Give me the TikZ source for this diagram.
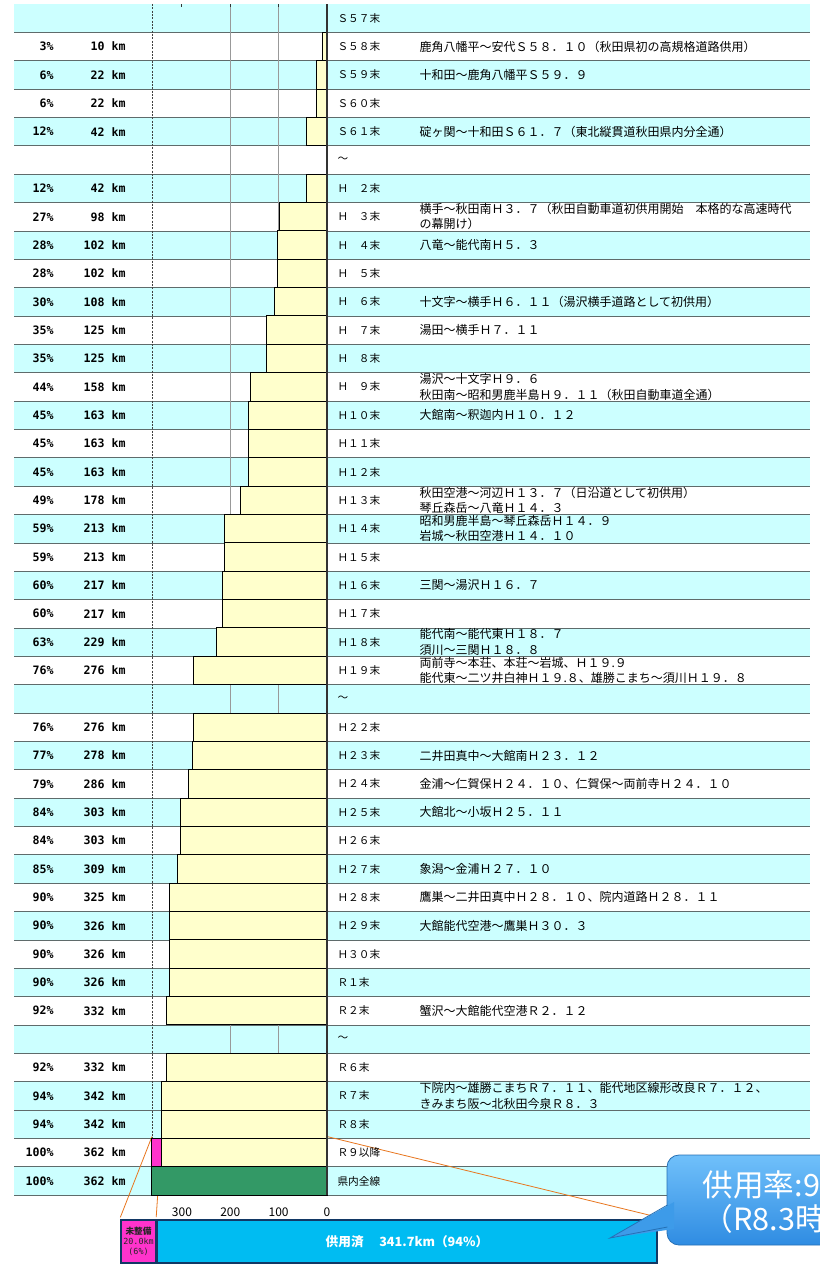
\documentclass[tikz,border=0pt]{standalone}
\usepackage{fontspec}
\setmainfont{Noto Sans CJK JP}
\newfontfamily\numfont{DejaVu Sans Mono}

\definecolor{rowcyan}{HTML}{CCFFFF}
\definecolor{rowgray}{HTML}{5F6B6B}
\definecolor{baryellow}{HTML}{FFFFCC}
\definecolor{gapmagenta}{HTML}{FF33CC}
\definecolor{allgreen}{HTML}{339966}
\definecolor{leadorange}{HTML}{E8761E}
\definecolor{doneblue}{HTML}{00BCF2}
\definecolor{donenavy}{HTML}{123865}
\definecolor{calltop}{HTML}{70C0FA}
\definecolor{callbottom}{HTML}{2F8CE2}
\definecolor{callmid}{HTML}{3D9BE9}

\tikzset{every picture/.style={line width=0.75pt}}
\tikzset{
  rowband/.style={fill=rowcyan},
  rowline/.style={draw=rowgray, line width=0.5pt},
  gridline/.style={draw=gray!80, line width=0.5pt},
  edgeline/.style={draw=gray!50!black, line width=0.5pt, dash pattern=on 1.5pt off 1pt},
  zeroline/.style={draw=black!80, line width=1pt},
  kmbar/.style={fill=baryellow, draw=black, line width=0.75pt},
  gapbar/.style={fill=gapmagenta, draw=black, line width=0.75pt},
  allbar/.style={fill=allgreen, draw=black, line width=0.75pt},
  leadline/.style={draw=leadorange, line width=0.6pt},
  numtext/.style={anchor=east, inner sep=0.75pt, font=\numfont\bfseries\fontsize{8.7}{10}\selectfont},
  yeartext/.style={anchor=west, inner sep=0.75pt, font=\fontsize{8}{9}\selectfont},
  desctext/.style={anchor=west, inner sep=0.75pt, align=left, font=\fontsize{9}{11.5}\selectfont},
  axistext/.style={inner sep=0.75pt, font=\fontsize{9}{10}\selectfont},
  gapbox/.style={draw=donenavy, fill=gapmagenta, line width=1pt, minimum width=26.25pt, minimum height=32.25pt, inner sep=0pt, align=center, text=black!85, font=\fontsize{6.3}{7.5}\selectfont},
  donebox/.style={draw=donenavy, fill=doneblue, line width=1.2pt, minimum width=375pt, minimum height=32.25pt, inner sep=0pt, text=white, font=\bfseries\fontsize{9.5}{10}\selectfont},
  callbody/.style={top color=calltop, bottom color=callbottom, draw=callbottom!80!black, line width=0.6pt, rounded corners=9pt},
  calltext/.style={anchor=west, inner sep=0pt, text=white, font=\fontsize{23}{24}\selectfont},
}

\begin{document}
\begin{tikzpicture}[x=0.75pt,y=0.75pt,yscale=-1,xscale=1]
\useasboundingbox (0,0) rectangle (820,1264);
\clip (0,0) rectangle (820,1264);
\fill[white] (0,0) rectangle (820,1264);

% Boxes under the axis
\node[gapbox] (undone) at (138.5,1241.5) {{\bfseries\fontsize{6.5}{7.5}\selectfont 未整備}\\{\numfont 20.0km}\\{\numfont (6\%)}};
\node[donebox] (done) at (407,1241.5) {供用済\quad\ 341.7km（94\%）};

% Table: one unit of y is one row
\begin{scope}[shift={(0,4)},yscale=28.36]
  %Row bands
  \fill[rowband] (14,0) rectangle (810,1);
  \fill[rowband] (14,2) rectangle (810,3);
  \fill[rowband] (14,4) rectangle (810,5);
  \fill[rowband] (14,6) rectangle (810,7);
  \fill[rowband] (14,8) rectangle (810,9);
  \fill[rowband] (14,10) rectangle (810,11);
  \fill[rowband] (14,12) rectangle (810,13);
  \fill[rowband] (14,14) rectangle (810,15);
  \fill[rowband] (14,16) rectangle (810,17);
  \fill[rowband] (14,18) rectangle (810,19);
  \fill[rowband] (14,20) rectangle (810,21);
  \fill[rowband] (14,22) rectangle (810,23);
  \fill[rowband] (14,24) rectangle (810,25);
  \fill[rowband] (14,26) rectangle (810,27);
  \fill[rowband] (14,28) rectangle (810,29);
  \fill[rowband] (14,30) rectangle (810,31);
  \fill[rowband] (14,32) rectangle (810,33);
  \fill[rowband] (14,34) rectangle (810,35);
  \fill[rowband] (14,36) rectangle (810,37);
  \fill[rowband] (14,38) rectangle (810,40);
  \fill[rowband] (14,41) rectangle (810,42);
  %Row lines
  \draw[rowline] (14,1) -- (810,1) (14,2) -- (810,2) (14,3) -- (810,3) (14,4) -- (810,4) (14,5) -- (810,5) (14,6) -- (810,6)
    (14,7) -- (810,7) (14,8) -- (810,8) (14,9) -- (810,9) (14,10) -- (810,10) (14,11) -- (810,11) (14,12) -- (810,12)
    (14,13) -- (810,13) (14,14) -- (810,14) (14,15) -- (810,15) (14,16) -- (810,16) (14,17) -- (810,17) (14,18) -- (810,18)
    (14,19) -- (810,19) (14,20) -- (810,20) (14,21) -- (810,21) (14,22) -- (810,22) (14,23) -- (810,23) (14,24) -- (810,24)
    (14,25) -- (810,25) (14,26) -- (810,26) (14,27) -- (810,27) (14,28) -- (810,28) (14,29) -- (810,29) (14,30) -- (810,30)
    (14,31) -- (810,31) (14,32) -- (810,32) (14,33) -- (810,33) (14,34) -- (810,34) (14,35) -- (810,35) (14,36) -- (810,36)
    (14,37) -- (810,37) (14,38) -- (810,38) (14,39) -- (810,39) (14,40) -- (810,40) (14,41) -- (810,41) (14,42) -- (810,42);

  % Bars: x in km, leftwards from the zero line
  \begin{scope}[shift={(327,0)},xscale=-0.4835]
    \draw[gridline] (200,0) -- (200,42) (100,0) -- (100,42);
    \draw[edgeline] (362,0) -- (362,42);
    \draw[black!80] (300,0) -- (300,0.1) (200,0) -- (200,0.1) (100,0) -- (100,0.1);
    \coordinate (gapl) at (362,40);
    \coordinate (gapr) at (342,40);
    \coordinate (zerotop) at (0,40);
    \draw[leadline] (gapl) -- (undone.north west);
    \draw[leadline] (gapr) -- (done.north west);
    \draw[leadline] (zerotop) -- (done.north east);
    \draw[kmbar] (0,1) rectangle (10,2);
    \draw[kmbar] (0,2) rectangle (22,3);
    \draw[kmbar] (0,3) rectangle (22,4);
    \draw[kmbar] (0,4) rectangle (42,5);
    \draw[kmbar] (0,6) rectangle (42,7);
    \draw[kmbar] (0,7) rectangle (98,8);
    \draw[kmbar] (0,8) rectangle (102,9);
    \draw[kmbar] (0,9) rectangle (102,10);
    \draw[kmbar] (0,10) rectangle (108,11);
    \draw[kmbar] (0,11) rectangle (125,12);
    \draw[kmbar] (0,12) rectangle (125,13);
    \draw[kmbar] (0,13) rectangle (158,14);
    \draw[kmbar] (0,14) rectangle (163,15);
    \draw[kmbar] (0,15) rectangle (163,16);
    \draw[kmbar] (0,16) rectangle (163,17);
    \draw[kmbar] (0,17) rectangle (178,18);
    \draw[kmbar] (0,18) rectangle (213,19);
    \draw[kmbar] (0,19) rectangle (213,20);
    \draw[kmbar] (0,20) rectangle (217,21);
    \draw[kmbar] (0,21) rectangle (217,22);
    \draw[kmbar] (0,22) rectangle (229,23);
    \draw[kmbar] (0,23) rectangle (276,24);
    \draw[kmbar] (0,25) rectangle (276,26);
    \draw[kmbar] (0,26) rectangle (278,27);
    \draw[kmbar] (0,27) rectangle (286,28);
    \draw[kmbar] (0,28) rectangle (303,29);
    \draw[kmbar] (0,29) rectangle (303,30);
    \draw[kmbar] (0,30) rectangle (309,31);
    \draw[kmbar] (0,31) rectangle (325,32);
    \draw[kmbar] (0,32) rectangle (326,33);
    \draw[kmbar] (0,33) rectangle (326,34);
    \draw[kmbar] (0,34) rectangle (326,35);
    \draw[kmbar] (0,35) rectangle (332,36);
    \draw[kmbar] (0,37) rectangle (332,38);
    \draw[kmbar] (0,38) rectangle (342,39);
    \draw[kmbar] (0,39) rectangle (342,40);
    \draw[kmbar] (0,40) rectangle (342,41);
    \draw[gapbar] (342,40) rectangle (362,41);
    \draw[allbar] (0,41) rectangle (362,42);
    \draw[zeroline] (0,0) -- (0,42);
    % Text Node
    \node[axistext] (ax300) at (300,42.6) {300};
    \node[axistext] (ax200) at (200,42.6) {200};
    \node[axistext] (ax100) at (100,42.6) {100};
    \node[axistext] (ax0) at (0,42.6) {0};
  \end{scope}

  % Text Node: share and length
  \node[numtext] (pct1) at (55,1.5) {3\%};    \node[numtext] (km1) at (127,1.5) {10 km};
  \node[numtext] (pct2) at (55,2.5) {6\%};    \node[numtext] (km2) at (127,2.5) {22 km};
  \node[numtext] (pct3) at (55,3.5) {6\%};    \node[numtext] (km3) at (127,3.5) {22 km};
  \node[numtext] (pct4) at (55,4.5) {12\%};   \node[numtext] (km4) at (127,4.5) {42 km};
  \node[numtext] (pct6) at (55,6.5) {12\%};   \node[numtext] (km6) at (127,6.5) {42 km};
  \node[numtext] (pct7) at (55,7.5) {27\%};   \node[numtext] (km7) at (127,7.5) {98 km};
  \node[numtext] (pct8) at (55,8.5) {28\%};   \node[numtext] (km8) at (127,8.5) {102 km};
  \node[numtext] (pct9) at (55,9.5) {28\%};   \node[numtext] (km9) at (127,9.5) {102 km};
  \node[numtext] (pct10) at (55,10.5) {30\%}; \node[numtext] (km10) at (127,10.5) {108 km};
  \node[numtext] (pct11) at (55,11.5) {35\%}; \node[numtext] (km11) at (127,11.5) {125 km};
  \node[numtext] (pct12) at (55,12.5) {35\%}; \node[numtext] (km12) at (127,12.5) {125 km};
  \node[numtext] (pct13) at (55,13.5) {44\%}; \node[numtext] (km13) at (127,13.5) {158 km};
  \node[numtext] (pct14) at (55,14.5) {45\%}; \node[numtext] (km14) at (127,14.5) {163 km};
  \node[numtext] (pct15) at (55,15.5) {45\%}; \node[numtext] (km15) at (127,15.5) {163 km};
  \node[numtext] (pct16) at (55,16.5) {45\%}; \node[numtext] (km16) at (127,16.5) {163 km};
  \node[numtext] (pct17) at (55,17.5) {49\%}; \node[numtext] (km17) at (127,17.5) {178 km};
  \node[numtext] (pct18) at (55,18.5) {59\%}; \node[numtext] (km18) at (127,18.5) {213 km};
  \node[numtext] (pct19) at (55,19.5) {59\%}; \node[numtext] (km19) at (127,19.5) {213 km};
  \node[numtext] (pct20) at (55,20.5) {60\%}; \node[numtext] (km20) at (127,20.5) {217 km};
  \node[numtext] (pct21) at (55,21.5) {60\%}; \node[numtext] (km21) at (127,21.5) {217 km};
  \node[numtext] (pct22) at (55,22.5) {63\%}; \node[numtext] (km22) at (127,22.5) {229 km};
  \node[numtext] (pct23) at (55,23.5) {76\%}; \node[numtext] (km23) at (127,23.5) {276 km};
  \node[numtext] (pct25) at (55,25.5) {76\%}; \node[numtext] (km25) at (127,25.5) {276 km};
  \node[numtext] (pct26) at (55,26.5) {77\%}; \node[numtext] (km26) at (127,26.5) {278 km};
  \node[numtext] (pct27) at (55,27.5) {79\%}; \node[numtext] (km27) at (127,27.5) {286 km};
  \node[numtext] (pct28) at (55,28.5) {84\%}; \node[numtext] (km28) at (127,28.5) {303 km};
  \node[numtext] (pct29) at (55,29.5) {84\%}; \node[numtext] (km29) at (127,29.5) {303 km};
  \node[numtext] (pct30) at (55,30.5) {85\%}; \node[numtext] (km30) at (127,30.5) {309 km};
  \node[numtext] (pct31) at (55,31.5) {90\%}; \node[numtext] (km31) at (127,31.5) {325 km};
  \node[numtext] (pct32) at (55,32.5) {90\%}; \node[numtext] (km32) at (127,32.5) {326 km};
  \node[numtext] (pct33) at (55,33.5) {90\%}; \node[numtext] (km33) at (127,33.5) {326 km};
  \node[numtext] (pct34) at (55,34.5) {90\%}; \node[numtext] (km34) at (127,34.5) {326 km};
  \node[numtext] (pct35) at (55,35.5) {92\%}; \node[numtext] (km35) at (127,35.5) {332 km};
  \node[numtext] (pct37) at (55,37.5) {92\%}; \node[numtext] (km37) at (127,37.5) {332 km};
  \node[numtext] (pct38) at (55,38.5) {94\%}; \node[numtext] (km38) at (127,38.5) {342 km};
  \node[numtext] (pct39) at (55,39.5) {94\%}; \node[numtext] (km39) at (127,39.5) {342 km};
  \node[numtext] (pct40) at (55,40.5) {100\%}; \node[numtext] (km40) at (127,40.5) {362 km};
  \node[numtext] (pct41) at (55,41.5) {100\%}; \node[numtext] (km41) at (127,41.5) {362 km};

  % Text Node: year
  \node[yeartext] (yr0) at (336,0.5) {Ｓ５７末};
  \node[yeartext] (yr1) at (336,1.5) {Ｓ５８末};
  \node[yeartext] (yr2) at (336,2.5) {Ｓ５９末};
  \node[yeartext] (yr3) at (336,3.5) {Ｓ６０末};
  \node[yeartext] (yr4) at (336,4.5) {Ｓ６１末};
  \node[yeartext] (yr5) at (336,5.5) {～};
  \node[yeartext] (yr6) at (336,6.5) {Ｈ　２末};
  \node[yeartext] (yr7) at (336,7.5) {Ｈ　３末};
  \node[yeartext] (yr8) at (336,8.5) {Ｈ　４末};
  \node[yeartext] (yr9) at (336,9.5) {Ｈ　５末};
  \node[yeartext] (yr10) at (336,10.5) {Ｈ　６末};
  \node[yeartext] (yr11) at (336,11.5) {Ｈ　７末};
  \node[yeartext] (yr12) at (336,12.5) {Ｈ　８末};
  \node[yeartext] (yr13) at (336,13.5) {Ｈ　９末};
  \node[yeartext] (yr14) at (336,14.5) {Ｈ１０末};
  \node[yeartext] (yr15) at (336,15.5) {Ｈ１１末};
  \node[yeartext] (yr16) at (336,16.5) {Ｈ１２末};
  \node[yeartext] (yr17) at (336,17.5) {Ｈ１３末};
  \node[yeartext] (yr18) at (336,18.5) {Ｈ１４末};
  \node[yeartext] (yr19) at (336,19.5) {Ｈ１５末};
  \node[yeartext] (yr20) at (336,20.5) {Ｈ１６末};
  \node[yeartext] (yr21) at (336,21.5) {Ｈ１７末};
  \node[yeartext] (yr22) at (336,22.5) {Ｈ１８末};
  \node[yeartext] (yr23) at (336,23.5) {Ｈ１９末};
  \node[yeartext] (yr24) at (336,24.5) {～};
  \node[yeartext] (yr25) at (336,25.5) {Ｈ２２末};
  \node[yeartext] (yr26) at (336,26.5) {Ｈ２３末};
  \node[yeartext] (yr27) at (336,27.5) {Ｈ２４末};
  \node[yeartext] (yr28) at (336,28.5) {Ｈ２５末};
  \node[yeartext] (yr29) at (336,29.5) {Ｈ２６末};
  \node[yeartext] (yr30) at (336,30.5) {Ｈ２７末};
  \node[yeartext] (yr31) at (336,31.5) {Ｈ２８末};
  \node[yeartext] (yr32) at (336,32.5) {Ｈ２９末};
  \node[yeartext] (yr33) at (336,33.5) {Ｈ３０末};
  \node[yeartext] (yr34) at (336,34.5) {Ｒ１末};
  \node[yeartext] (yr35) at (336,35.5) {Ｒ２末};
  \node[yeartext] (yr36) at (336,36.5) {～};
  \node[yeartext] (yr37) at (336,37.5) {Ｒ６末};
  \node[yeartext] (yr38) at (336,38.5) {Ｒ７末};
  \node[yeartext] (yr39) at (336,39.5) {Ｒ８末};
  \node[yeartext] (yr40) at (336,40.5) {Ｒ９以降};
  \node[yeartext] (yr41) at (336,41.5) {県内全線};

  % Text Node: opened sections
  \node[desctext] (dsc1) at (418,1.5) {鹿角八幡平～安代Ｓ５８．１０（秋田県初の高規格道路供用）};
  \node[desctext] (dsc2) at (418,2.5) {十和田～鹿角八幡平Ｓ５９．９};
  \node[desctext] (dsc4) at (418,4.5) {碇ヶ関～十和田Ｓ６１．７（東北縦貫道秋田県内分全通）};
  \begin{scope}
    \clip (400,7) rectangle (812,8);
    \node[desctext] (dsc7) at (418,7.5) {横手～秋田南Ｈ３．７（秋田自動車道初供用開始　本格的な高速時代\\の幕開け）};
  \end{scope}
  \node[desctext] (dsc8) at (418,8.5) {八竜～能代南Ｈ５．３};
  \node[desctext] (dsc10) at (418,10.5) {十文字～横手Ｈ６．１１（湯沢横手道路として初供用）};
  \node[desctext] (dsc11) at (418,11.5) {湯田～横手Ｈ７．１１};
  \begin{scope}
    \clip (400,13) rectangle (812,14);
    \node[desctext] (dsc13) at (418,13.5) {湯沢～十文字Ｈ９．６\\秋田南～昭和男鹿半島Ｈ９．１１（秋田自動車道全通）};
  \end{scope}
  \node[desctext] (dsc14) at (418,14.5) {大館南～釈迦内Ｈ１０．１２};
  \begin{scope}
    \clip (400,17) rectangle (812,18);
    \node[desctext] (dsc17) at (418,17.5) {秋田空港～河辺Ｈ１３．７（日沿道として初供用）\\琴丘森岳～八竜Ｈ１４．３};
  \end{scope}
  \begin{scope}
    \clip (400,18) rectangle (812,19);
    \node[desctext] (dsc18) at (418,18.5) {昭和男鹿半島～琴丘森岳Ｈ１４．９\\岩城～秋田空港Ｈ１４．１０};
  \end{scope}
  \node[desctext] (dsc20) at (418,20.5) {三関～湯沢Ｈ１６．７};
  \begin{scope}
    \clip (400,22) rectangle (812,23);
    \node[desctext] (dsc22) at (418,22.5) {能代南～能代東Ｈ１８．７\\須川～三関Ｈ１８．８};
  \end{scope}
  \begin{scope}
    \clip (400,23) rectangle (812,24);
    \node[desctext] (dsc23) at (418,23.5) {両前寺～本荘、本荘～岩城、Ｈ１９.９\\能代東～二ツ井白神Ｈ１９.８、雄勝こまち～須川Ｈ１９．８};
  \end{scope}
  \node[desctext] (dsc26) at (418,26.5) {二井田真中～大館南Ｈ２３．１２};
  \node[desctext] (dsc27) at (418,27.5) {金浦～仁賀保Ｈ２４．１０、仁賀保～両前寺Ｈ２４．１０};
  \node[desctext] (dsc28) at (418,28.5) {大館北～小坂Ｈ２５．１１};
  \node[desctext] (dsc30) at (418,30.5) {象潟～金浦Ｈ２７．１０};
  \node[desctext] (dsc31) at (418,31.5) {鷹巣～二井田真中Ｈ２８．１０、院内道路Ｈ２８．１１};
  \node[desctext] (dsc32) at (418,32.5) {大館能代空港～鷹巣Ｈ３０．３};
  \node[desctext] (dsc35) at (418,35.5) {蟹沢～大館能代空港Ｒ２．１２};
  \begin{scope}
    \clip (400,38) rectangle (812,39);
    \node[desctext] (dsc38) at (418,38.5) {下院内～雄勝こまちＲ７．１１、能代地区線形改良Ｒ７．１２、\\きみまち阪～北秋田今泉Ｒ８．３};
  \end{scope}
\end{scope}

% Callout
\shade[callbody] (667,1155) rectangle (880,1245);
\fill[callmid] (674,1202) -- (610,1238) -- (674,1229) -- cycle;
\draw[callbottom!80!black, line width=0.6pt] (667.4,1205) -- (610,1238) -- (667.4,1227);
% Text Node
\node[calltext] (rate) at (702,1185) {供用率:9};
\node[calltext] (ratetime) at (702,1219) {（R8.3時};

\end{tikzpicture}
\end{document}
